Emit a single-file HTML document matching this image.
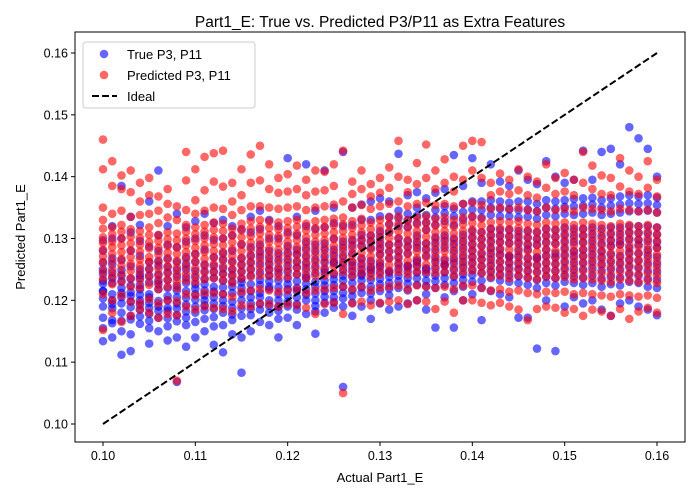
<!DOCTYPE html>
<html><head><meta charset="utf-8">
<style>
html,body{margin:0;padding:0;background:#fff;}
svg{display:block;font-family:"Liberation Sans","DejaVu Sans",sans-serif;}
</style></head>
<body>
<svg id="chart" width="700" height="500" viewBox="0 0 700 500">
  <rect x="0" y="0" width="700" height="500" fill="#fff"/>
  <text x="380" y="27" text-anchor="middle" font-size="15.5" fill="#000">Part1_E: True vs. Predicted P3/P11 as Extra Features</text>
  <g id="marks"></g>
  <g id="axes"></g>
  <text x="380" y="482" text-anchor="middle" font-size="13">Actual Part1_E</text>
  <text transform="translate(25,237) rotate(-90)" text-anchor="middle" font-size="13">Predicted Part1_E</text>
  <g>
    <rect x="83" y="42" width="172" height="66" rx="3" fill="#fff" fill-opacity="0.8" stroke="#ccc"/>
    <circle cx="104" cy="54" r="4.3" fill="#0000ff" fill-opacity="0.6"/>
    <text x="127" y="59" font-size="13">True P3, P11</text>
    <circle cx="104" cy="75" r="4.3" fill="#ff0000" fill-opacity="0.6"/>
    <text x="127" y="80" font-size="13">Predicted P3, P11</text>
    <line x1="92" y1="96" x2="117" y2="96" stroke="#000" stroke-width="2" stroke-dasharray="7,3"/>
    <text x="127" y="101" font-size="13">Ideal</text>
  </g>
</svg>
<script>
// x columns (Actual Part1_E) and y values per column in units of 1e-4
const xStart = 0.100, xStep = 0.001;
const xTicks = [0.10, 0.11, 0.12, 0.13, 0.14, 0.15, 0.16];
const yTicks = [0.10, 0.11, 0.12, 0.13, 0.14, 0.15, 0.16];
const tickLabels = ["0.10","0.11","0.12","0.13","0.14","0.15","0.16"];
const trueY = [
[1134,1155,1190,1215,1232,1250,1262,1280,1297,1215,1172,1243,1203,1227],
[1168,1140,1210,1228,1187,1245,1268,1300,1320,1200,1163,1236,1194,1258],
[1112,1150,1180,1205,1220,1240,1265,1385,1300,1195,1167,1231,1212,1249],
[1118,1145,1175,1198,1213,1235,1255,1280,1310,1335,1189,1224,1169,1207],
[1162,1185,1200,1218,1236,1250,1272,1296,1322,1225,1174,1241,1193,1209],
[1130,1155,1178,1196,1210,1240,1262,1287,1360,1205,1188,1229,1167,1251],
[1150,1172,1190,1218,1232,1256,1280,1305,1410,1242,1183,1199,1226,1264],
[1135,1158,1183,1200,1220,1245,1268,1290,1320,1188,1207,1233,1171,1254],
[1068,1140,1176,1195,1216,1238,1262,1286,1340,1205,1187,1224,1166,1249],
[1125,1160,1182,1204,1228,1250,1270,1295,1318,1215,1193,1237,1172,1259],
[1140,1165,1190,1210,1226,1248,1275,1300,1328,1180,1201,1219,1237,1262],
[1150,1170,1192,1216,1235,1258,1282,1305,1340,1200,1184,1226,1208,1247],
[1128,1158,1186,1205,1222,1246,1270,1298,1325,1195,1173,1214,1236,1256],
[1116,1160,1180,1200,1232,1252,1276,1300,1330,1210,1191,1243,1221,1265],
[1145,1168,1188,1212,1230,1250,1280,1305,1320,1198,1177,1222,1241,1263],
[1083,1140,1175,1200,1220,1246,1268,1290,1315,1235,1187,1211,1229,1257],
[1150,1176,1195,1215,1240,1262,1286,1310,1335,1205,1186,1226,1251,1273],
[1165,1185,1205,1225,1245,1270,1290,1315,1345,1212,1194,1233,1258,1279],
[1160,1180,1200,1222,1240,1258,1280,1300,1330,1218,1191,1231,1249,1268],
[1140,1170,1190,1210,1232,1252,1276,1300,1320,1200,1183,1221,1244,1265],
[1172,1190,1208,1226,1246,1266,1288,1310,1430,1235,1198,1218,1256,1277],
[1160,1185,1205,1220,1242,1262,1282,1305,1335,1215,1194,1231,1253,1274],
[1178,1200,1218,1236,1252,1272,1295,1320,1420,1240,1209,1227,1261,1284],
[1146,1182,1200,1222,1244,1266,1290,1315,1345,1230,1191,1211,1255,1279],
[1180,1196,1215,1232,1250,1270,1292,1318,1410,1245,1206,1224,1261,1282],
[1188,1205,1225,1242,1262,1282,1300,1325,1350,1260,1197,1215,1234,1272],
[1060,1190,1212,1232,1250,1272,1295,1320,1440,1240,1203,1222,1261,1285],
[1175,1196,1216,1238,1256,1276,1298,1322,1350,1262,1207,1228,1247,1289],
[1190,1212,1232,1250,1268,1288,1306,1330,1355,1240,1221,1243,1259,1297],
[1170,1200,1222,1244,1264,1285,1305,1330,1360,1250,1211,1233,1254,1296],
[1195,1215,1235,1255,1274,1292,1312,1336,1365,1260,1226,1246,1283,1302],
[1185,1208,1228,1248,1268,1290,1310,1335,1360,1245,1219,1238,1279,1323],
[1190,1220,1240,1260,1280,1300,1320,1345,1437,1270,1231,1251,1291,1333],
[1195,1216,1236,1256,1276,1296,1318,1340,1370,1255,1227,1247,1287,1329],
[1200,1225,1245,1265,1285,1305,1325,1350,1375,1262,1236,1255,1294,1337],
[1185,1210,1232,1252,1272,1292,1314,1338,1365,1250,1223,1243,1283,1326],
[1156,1220,1240,1262,1282,1302,1322,1346,1374,1270,1231,1251,1293,1334],
[1205,1225,1245,1265,1285,1305,1328,1352,1380,1258,1236,1256,1296,1341],
[1156,1215,1238,1260,1280,1300,1322,1348,1435,1268,1228,1249,1291,1336],
[1200,1222,1242,1262,1284,1306,1330,1356,1385,1272,1233,1253,1295,1343],
[1210,1230,1250,1270,1290,1312,1335,1360,1430,1280,1241,1261,1301,1347],
[1168,1220,1244,1266,1288,1310,1334,1360,1390,1275,1232,1255,1299,1346],
[1215,1236,1256,1276,1296,1316,1338,1362,1420,1285,1246,1266,1306,1350],
[1210,1232,1252,1274,1294,1314,1336,1360,1392,1282,1242,1263,1304,1348],
[1205,1230,1252,1272,1292,1314,1336,1358,1385,1270,1241,1261,1303,1347],
[1172,1228,1250,1270,1292,1312,1334,1360,1410,1280,1239,1259,1302,1346],
[1172,1225,1248,1268,1290,1312,1335,1360,1395,1282,1237,1258,1301,1347],
[1122,1220,1246,1268,1290,1310,1332,1356,1388,1270,1233,1257,1299,1344],
[1200,1228,1250,1272,1294,1316,1338,1362,1425,1282,1239,1261,1305,1350],
[1118,1224,1248,1270,1292,1314,1336,1360,1400,1276,1236,1259,1303,1348],
[1190,1230,1252,1274,1296,1318,1340,1362,1390,1285,1241,1263,1307,1351],
[1205,1228,1250,1272,1294,1316,1338,1364,1395,1280,1239,1261,1305,1352],
[1195,1225,1250,1272,1294,1316,1340,1365,1442,1282,1237,1261,1305,1353],
[1200,1228,1252,1274,1296,1318,1342,1366,1395,1285,1240,1263,1307,1355],
[1185,1222,1248,1270,1292,1316,1338,1362,1440,1280,1235,1259,1304,1350],
[1175,1226,1250,1274,1296,1318,1340,1365,1445,1288,1238,1262,1307,1353],
[1195,1224,1250,1272,1296,1318,1342,1368,1420,1290,1237,1261,1307,1355],
[1200,1230,1254,1276,1298,1320,1344,1370,1480,1285,1242,1265,1309,1357],
[1190,1228,1252,1276,1298,1320,1344,1368,1462,1290,1240,1264,1309,1356],
[1185,1222,1248,1272,1296,1320,1345,1370,1445,1282,1235,1260,1308,1357],
[1176,1220,1246,1270,1294,1318,1342,1366,1400,1285,1233,1258,1306,1354]
];
const predY = [
[1460,1412,1350,1330,1302,1282,1260,1235,1210,1152,1316,1271,1293,1247],
[1385,1425,1340,1318,1295,1275,1250,1226,1200,1180,1307,1263,1286,1239],
[1402,1380,1345,1322,1300,1278,1256,1230,1208,1165,1311,1267,1289,1243],
[1410,1375,1335,1315,1292,1270,1248,1222,1198,1175,1303,1259,1281,1236],
[1390,1360,1338,1312,1290,1266,1245,1220,1196,1185,1301,1256,1279,1233],
[1398,1370,1340,1318,1294,1270,1250,1225,1202,1180,1306,1262,1284,1238],
[1368,1345,1325,1306,1285,1262,1240,1218,1195,1172,1296,1251,1274,1229],
[1380,1356,1334,1310,1288,1266,1244,1222,1200,1178,1299,1255,1277,1233],
[1070,1352,1330,1308,1286,1264,1242,1220,1198,1176,1297,1253,1275,1231],
[1440,1394,1346,1322,1300,1278,1255,1232,1210,1190,1311,1267,1289,1243],
[1412,1362,1340,1318,1296,1274,1252,1230,1208,1185,1307,1263,1285,1241],
[1432,1378,1345,1322,1300,1278,1256,1234,1212,1190,1311,1267,1289,1245],
[1438,1392,1350,1326,1302,1280,1258,1236,1212,1188,1314,1269,1291,1247],
[1442,1384,1348,1324,1300,1278,1255,1232,1210,1186,1312,1267,1289,1243],
[1390,1360,1338,1316,1294,1272,1250,1228,1206,1182,1305,1261,1283,1239],
[1412,1370,1346,1324,1302,1280,1258,1236,1214,1192,1313,1269,1291,1247],
[1436,1390,1352,1328,1304,1282,1260,1238,1216,1190,1316,1271,1293,1249],
[1450,1394,1352,1330,1308,1286,1264,1240,1218,1195,1319,1275,1297,1252],
[1420,1380,1350,1328,1306,1284,1262,1240,1216,1194,1317,1273,1295,1251],
[1398,1374,1348,1326,1304,1282,1260,1238,1214,1190,1315,1271,1293,1249],
[1404,1376,1350,1328,1306,1284,1262,1238,1216,1194,1317,1273,1295,1250],
[1418,1380,1352,1330,1308,1286,1264,1242,1218,1192,1319,1275,1297,1253],
[1395,1370,1346,1324,1302,1280,1258,1236,1212,1188,1313,1269,1291,1247],
[1410,1376,1350,1328,1306,1284,1262,1240,1216,1178,1317,1273,1295,1251],
[1408,1378,1352,1330,1308,1286,1264,1240,1218,1194,1319,1275,1297,1252],
[1420,1385,1355,1332,1310,1288,1266,1244,1220,1196,1321,1277,1299,1255],
[1050,1442,1360,1334,1312,1290,1268,1246,1222,1178,1323,1279,1301,1257],
[1392,1372,1350,1328,1306,1284,1262,1240,1218,1195,1317,1273,1295,1251],
[1410,1380,1354,1332,1310,1288,1266,1244,1222,1198,1321,1277,1299,1255],
[1388,1368,1348,1326,1304,1282,1260,1238,1216,1192,1315,1271,1293,1249],
[1398,1374,1352,1330,1308,1286,1264,1242,1220,1196,1319,1275,1297,1253],
[1415,1382,1356,1334,1312,1290,1268,1246,1222,1198,1323,1279,1301,1257],
[1458,1400,1360,1336,1312,1290,1268,1246,1224,1200,1324,1279,1301,1257],
[1395,1375,1352,1330,1308,1286,1264,1242,1218,1194,1319,1275,1297,1253],
[1422,1388,1356,1334,1312,1290,1268,1246,1224,1200,1323,1279,1301,1257],
[1452,1398,1358,1336,1314,1292,1270,1246,1222,1198,1325,1281,1303,1258],
[1410,1380,1354,1332,1310,1288,1266,1244,1220,1186,1321,1277,1299,1255],
[1428,1390,1356,1334,1312,1290,1268,1246,1222,1198,1323,1279,1301,1257],
[1400,1376,1352,1330,1308,1286,1264,1240,1218,1180,1319,1275,1297,1252],
[1450,1395,1356,1334,1312,1290,1268,1246,1224,1200,1323,1279,1301,1257],
[1458,1410,1358,1336,1314,1292,1270,1248,1224,1200,1325,1281,1303,1259],
[1456,1398,1354,1332,1310,1288,1266,1244,1220,1196,1321,1277,1299,1255],
[1390,1370,1348,1326,1304,1282,1260,1238,1216,1192,1315,1271,1293,1249],
[1405,1376,1350,1328,1306,1284,1262,1240,1218,1196,1317,1273,1295,1251],
[1395,1372,1348,1326,1304,1282,1260,1236,1214,1190,1315,1271,1293,1248],
[1412,1378,1350,1328,1306,1284,1262,1240,1216,1185,1317,1273,1295,1251],
[1400,1370,1346,1324,1302,1280,1258,1236,1212,1168,1313,1269,1291,1247],
[1392,1366,1344,1322,1300,1278,1256,1234,1210,1186,1311,1267,1289,1245],
[1420,1382,1350,1326,1304,1282,1260,1238,1214,1190,1315,1271,1293,1249],
[1398,1372,1346,1324,1302,1280,1258,1236,1212,1188,1313,1269,1291,1247],
[1406,1376,1348,1326,1304,1282,1260,1238,1214,1180,1315,1271,1293,1249],
[1395,1370,1344,1322,1300,1278,1256,1234,1210,1186,1311,1267,1289,1245],
[1440,1390,1350,1326,1304,1282,1260,1236,1212,1175,1315,1271,1293,1248],
[1418,1380,1348,1324,1302,1280,1258,1234,1210,1185,1313,1269,1291,1246],
[1402,1372,1346,1322,1300,1278,1256,1232,1208,1182,1311,1267,1289,1244],
[1398,1370,1344,1320,1298,1276,1254,1230,1206,1175,1309,1265,1287,1242],
[1430,1384,1348,1324,1302,1280,1258,1234,1210,1186,1313,1269,1291,1246],
[1410,1376,1346,1322,1300,1278,1256,1232,1208,1170,1311,1267,1289,1244],
[1400,1372,1344,1320,1298,1276,1254,1230,1206,1182,1309,1265,1287,1242],
[1425,1382,1346,1322,1300,1278,1256,1232,1208,1188,1311,1267,1289,1244],
[1395,1368,1342,1318,1296,1274,1252,1228,1204,1180,1307,1263,1285,1240]
];
const yUnit = 0.0001;

const NS = "http://www.w3.org/2000/svg";
const X0 = 0.10, X1 = 0.16, PX0 = 103, PX1 = 657;
const Y0 = 0.10, Y1 = 0.16, PY0 = 424, PY1 = 53;
function sx(v){ return PX0 + (v - X0) / (X1 - X0) * (PX1 - PX0); }
function sy(v){ return PY0 + (v - Y0) / (Y1 - Y0) * (PY1 - PY0); }
const plot = {left:75, right:685, top:32, bottom:442};

const marks = document.getElementById('marks');
function drawSeries(arr, color, name){
  const g = document.createElementNS(NS,'g');
  
  
  arr.forEach((col, i) => {
    const xv = xStart + i * xStep;
    col.forEach(v => {
      const c = document.createElementNS(NS,'circle');
      c.setAttribute('cx', sx(xv).toFixed(2));
      c.setAttribute('cy', sy(v * yUnit).toFixed(2));
      c.setAttribute('r', 4.3);
      c.setAttribute('fill', color);
      c.setAttribute('fill-opacity', 0.6);
      
      
      g.appendChild(c);
    });
  });
  marks.appendChild(g);
}
drawSeries(trueY, '#0000ff', 'series-true');
drawSeries(predY, '#ff0000', 'series-predicted');

const ideal = document.createElementNS(NS,'line');
ideal.setAttribute('x1', sx(X0)); ideal.setAttribute('y1', sy(Y0));
ideal.setAttribute('x2', sx(X1)); ideal.setAttribute('y2', sy(Y1));
ideal.setAttribute('stroke', '#000'); ideal.setAttribute('stroke-width', 2);
ideal.setAttribute('stroke-dasharray', '7,3');


marks.appendChild(ideal);

const axes = document.getElementById('axes');
const frame = document.createElementNS(NS,'rect');
frame.setAttribute('x', plot.left); frame.setAttribute('y', plot.top);
frame.setAttribute('width', plot.right - plot.left); frame.setAttribute('height', plot.bottom - plot.top);
frame.setAttribute('fill', 'none'); frame.setAttribute('stroke', '#000'); frame.setAttribute('stroke-width', 1);


axes.appendChild(frame);

xTicks.forEach((t, i) => {
  const x = sx(t);
  const l = document.createElementNS(NS,'line');
  l.setAttribute('x1', x); l.setAttribute('x2', x);
  l.setAttribute('y1', plot.bottom); l.setAttribute('y2', plot.bottom + 4);
  l.setAttribute('stroke', '#000');
  
  
  axes.appendChild(l);
  const tx = document.createElementNS(NS,'text');
  tx.setAttribute('x', x); tx.setAttribute('y', plot.bottom + 18);
  tx.setAttribute('text-anchor', 'middle'); tx.setAttribute('font-size', '12.5');
  tx.textContent = tickLabels[i];
  
  
  axes.appendChild(tx);
});
yTicks.forEach((t, i) => {
  const y = sy(t);
  const l = document.createElementNS(NS,'line');
  l.setAttribute('x1', plot.left - 4); l.setAttribute('x2', plot.left);
  l.setAttribute('y1', y); l.setAttribute('y2', y);
  l.setAttribute('stroke', '#000');
  
  
  axes.appendChild(l);
  const tx = document.createElementNS(NS,'text');
  tx.setAttribute('x', plot.left - 7); tx.setAttribute('y', y + 4.5);
  tx.setAttribute('text-anchor', 'end'); tx.setAttribute('font-size', '12.5');
  tx.textContent = tickLabels[i];
  
  
  axes.appendChild(tx);
});
</script>
</body></html>
